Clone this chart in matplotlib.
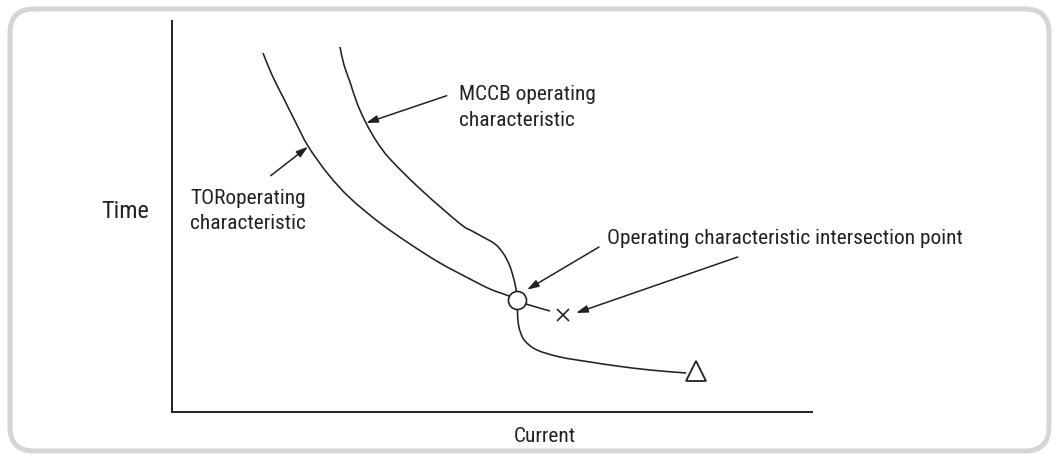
import matplotlib
matplotlib.use("Agg")
import matplotlib.pyplot as plt
from matplotlib.patches import FancyBboxPatch, PathPatch
from matplotlib.path import Path
from matplotlib import font_manager

# ---- data (diagram units: current / time, origin at the axes corner) ----
tor_current = [91, 100, 111, 123, 136, 156, 178, 208, 238, 268, 298, 318, 337, 345, 354, 378]
tor_time    = [359, 337, 315, 291, 266, 238, 214, 189, 168, 149, 133, 123, 116, 112, 108, 101]

mccb_current = [168, 172, 178, 185, 194, 205, 218, 245, 273, 291, 300, 311, 323, 331, 337, 341,
                344, 345, 345.5, 346, 348, 353, 365, 388, 418, 445, 478, 514]
mccb_time    = [365, 347, 330, 309, 289, 270, 253, 226, 201, 186, 181, 175, 168, 159, 148, 136,
                123, 112, 101, 91, 81, 71, 62, 55, 50, 46, 42, 39]

intersection = (345, 112)   # circle
cross_point = (391, 97)     # x marker
end_point = (524, 41)       # triangle

labels = {
    "mccb": ["MCCB operating", "characteristic"],
    "tor": ["TORoperating", "characteristic"],
    "inter": "Operating characteristic intersection point",
    "y": "Time",
    "x": "Current",
}

# arrows: (text-end, tip)
arrows = [
    ((274.7, 316.3), (194, 289)),
    ((98.7, 236.3), (136, 265.3)),
    ((427, 165), (355, 122.3)),
    ((565.7, 155), (404, 99)),
]

# ---- font choice: a narrow sans if available ----
names = {f.name for f in font_manager.fontManager.ttflist}
narrow = None
for cand in ['Liberation Sans Narrow', 'Arial Narrow', 'Roboto Condensed', 'Open Sans Condensed']:
    if cand in names:
        narrow = cand
        break
if narrow in ('Liberation Sans Narrow', 'Arial Narrow'):
    plt.rcParams['font.family'] = [narrow, 'DejaVu Sans']
    fs, fs_time = 16.6, 18
elif narrow is not None:
    plt.rcParams['font.family'] = [narrow, 'DejaVu Sans']
    fs, fs_time = 15.4, 17.5
else:
    plt.rcParams['font.family'] = ['Liberation Sans', 'DejaVu Sans']
    fs, fs_time = 14.0, 15.2


def smooth_path(xs, ys):
    """Catmull-Rom through the given points, rendered as cubic Bezier segments."""
    pts = list(zip(xs, ys))
    verts = [pts[0]]
    codes = [Path.MOVETO]
    n = len(pts)
    for i in range(n - 1):
        p0 = pts[i - 1] if i > 0 else pts[i]
        p1 = pts[i]
        p2 = pts[i + 1]
        p3 = pts[i + 2] if i + 2 < n else pts[i + 1]
        c1 = (p1[0] + (p2[0] - p0[0]) / 6.0, p1[1] + (p2[1] - p0[1]) / 6.0)
        c2 = (p2[0] - (p3[0] - p1[0]) / 6.0, p2[1] - (p3[1] - p1[1]) / 6.0)
        verts += [c1, c2, p2]
        codes += [Path.CURVE4] * 3
    return Path(verts, codes)


W, H = 1056, 456
fig = plt.figure(figsize=(W / 100, H / 100), dpi=100)

# background frame
bg = fig.add_axes([0, 0, 1, 1], zorder=0)
bg.set_xlim(0, W)
bg.set_ylim(H, 0)
bg.axis('off')
bg.add_patch(FancyBboxPatch((10, 10), 1039, 442,
                            boxstyle='round,pad=0,rounding_size=24',
                            linewidth=3.6, edgecolor='#d5d5d5', facecolor='white'))

ox, oy = 172, 413
xmax, ymax = 640, 391
ax = fig.add_axes([ox / W, (H - oy) / H, xmax / W, ymax / H], zorder=1)
ax.set_facecolor('none')
ax.set_xlim(0, xmax)
ax.set_ylim(0, ymax)
for s in ['top', 'right']:
    ax.spines[s].set_visible(False)
for s in ['left', 'bottom']:
    ax.spines[s].set_linewidth(1.4)
    ax.spines[s].set_color('#222222')
ax.set_xticks([])
ax.set_yticks([])

lc = '#222222'
ax.add_patch(PathPatch(smooth_path(tor_current, tor_time), facecolor='none',
                       edgecolor=lc, lw=1.15, zorder=2))
ax.add_patch(PathPatch(smooth_path(mccb_current, mccb_time), facecolor='none',
                       edgecolor=lc, lw=1.15, zorder=2))

ax.plot(*intersection, marker='o', ms=13, mfc='white', mec=lc, mew=1.2, zorder=4, clip_on=False)
ax.plot(*cross_point, marker='x', ms=9, mec=lc, mew=1.2, zorder=4, clip_on=False)
ax.plot(*end_point, marker='^', ms=15, mfc='white', mec=lc, mew=1.3, zorder=4, clip_on=False)

for (x0, y0), (x1, y1) in arrows:
    ax.annotate('', xy=(x1, y1), xytext=(x0, y0),
                arrowprops=dict(arrowstyle='-|>,head_length=0.7,head_width=0.22',
                                color=lc, lw=1.1, shrinkA=0, shrinkB=0),
                annotation_clip=False)

tc = '#222222'
ax.text(287, 313, labels["mccb"][0], fontsize=fs, color=tc, va='baseline', ha='left')
ax.text(287, 287, labels["mccb"][1], fontsize=fs, color=tc, va='baseline', ha='left')
ax.text(18, 209, labels["tor"][0], fontsize=fs, color=tc, va='baseline', ha='left')
ax.text(18, 184, labels["tor"][1], fontsize=fs, color=tc, va='baseline', ha='left')
ax.text(435, 169, labels["inter"], fontsize=fs, color=tc, va='baseline', ha='left')
ax.text(-47, 201, labels["y"], fontsize=fs_time, color=tc, va='center', ha='center', clip_on=False)
ax.text(373, -24, labels["x"], fontsize=fs, color=tc, va='center', ha='center', clip_on=False)

fig.savefig('out.png', dpi=100)
